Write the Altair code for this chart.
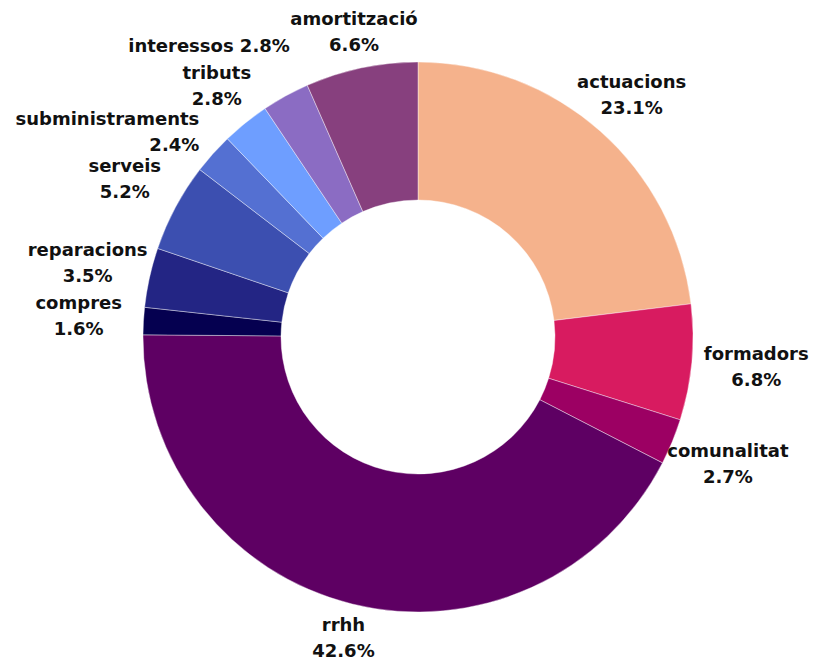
import altair as alt
import pandas as pd

categories = ["actuacions", "formadors", "comunalitat", "rrhh", "compres", "reparacions",
              "serveis", "subministraments", "tributs", "interessos", "amortització"]
values = [23.1, 6.8, 2.7, 42.6, 1.6, 3.5, 5.2, 2.4, 2.8, 2.8, 6.6]
colors = ["#F5B28C", "#D81B60", "#9C0063", "#5E0063", "#050050", "#232584",
          "#3C4FB0", "#5470D2", "#6E9EFF", "#8B6CC3", "#87407E"]
single_line = ["interessos"]

labels = [f"{c} {v}%" if c in single_line else f"{c}\n{v}%" for c, v in zip(categories, values)]
df = pd.DataFrame({"cat": categories, "value": values, "label": labels,
                   "order": list(range(len(categories)))})

cx, cy = 410, 329
AX, AY = 340, 310   # label ellipse semi-axes
LH = 26             # line height
INSET = 24          # staggered labels: inner edge offset from the ellipse point
VPUSH = 13

arcs = alt.Chart(df).mark_arc(outerRadius=275, innerRadius=137, stroke="#ffffff",
                               strokeWidth=0.4).encode(
    theta=alt.Theta("value:Q", stack=True),
    order=alt.Order("order:Q"),
    x=alt.value(cx), y=alt.value(cy),
    color=alt.Color("cat:N", scale=alt.Scale(domain=categories, range=colors), legend=None),
)

base = alt.Chart(df).transform_joinaggregate(
    total="sum(value)"
).transform_window(
    cum="sum(value)", idx="row_number()", sort=[alt.SortField("order")], frame=[None, 0]
).transform_calculate(
    ang="(datum.cum - datum.value / 2) / datum.total * 2 * PI",
    nl="length(split(datum.label, '\\n'))",
).transform_calculate(
    r=f"1 / sqrt(pow(sin(datum.ang) / {AX}, 2) + pow(cos(datum.ang) / {AY}, 2))",
    stag="(datum.idx % 2 == 0 && datum.value < 3) ? 1 : 0",
).transform_calculate(
    ex=f"{cx} + datum.r * sin(datum.ang)",
    ey=f"{cy} - datum.r * cos(datum.ang) - (datum.nl - 1) * {LH} / 2",
)

text_style = dict(lineBreak="\n", font="DejaVu Sans", fontWeight="bold", fontSize=18,
                  color="#111111", lineHeight=LH, baseline="middle")

text_main = base.transform_filter("datum.stag == 0").mark_text(
    align="center", **text_style
).encode(
    x=alt.X("ex:Q", scale=None, axis=None),
    y=alt.Y("ey:Q", scale=None, axis=None),
    text="label:N",
)

# staggered labels of alternate small slices (all on the left side): right-aligned
text_stag = base.transform_filter("datum.stag == 1").transform_calculate(
    sx=f"datum.ex + {INSET}",
    sy=f"datum.ey + (abs(cos(datum.ang)) > abs(sin(datum.ang)) ? -1 : 1) * {VPUSH}",
).mark_text(align="right", **text_style).encode(
    x=alt.X("sx:Q", scale=None, axis=None),
    y=alt.Y("sy:Q", scale=None, axis=None),
    text="label:N",
)

chart = (arcs + text_main + text_stag).properties(
    width=804, height=653,
    autosize=alt.AutoSizeParams(type="none"), padding=0,
).configure_view(stroke=None)

chart.save("out.html", embed_options={"renderer": "svg", "actions": False})
